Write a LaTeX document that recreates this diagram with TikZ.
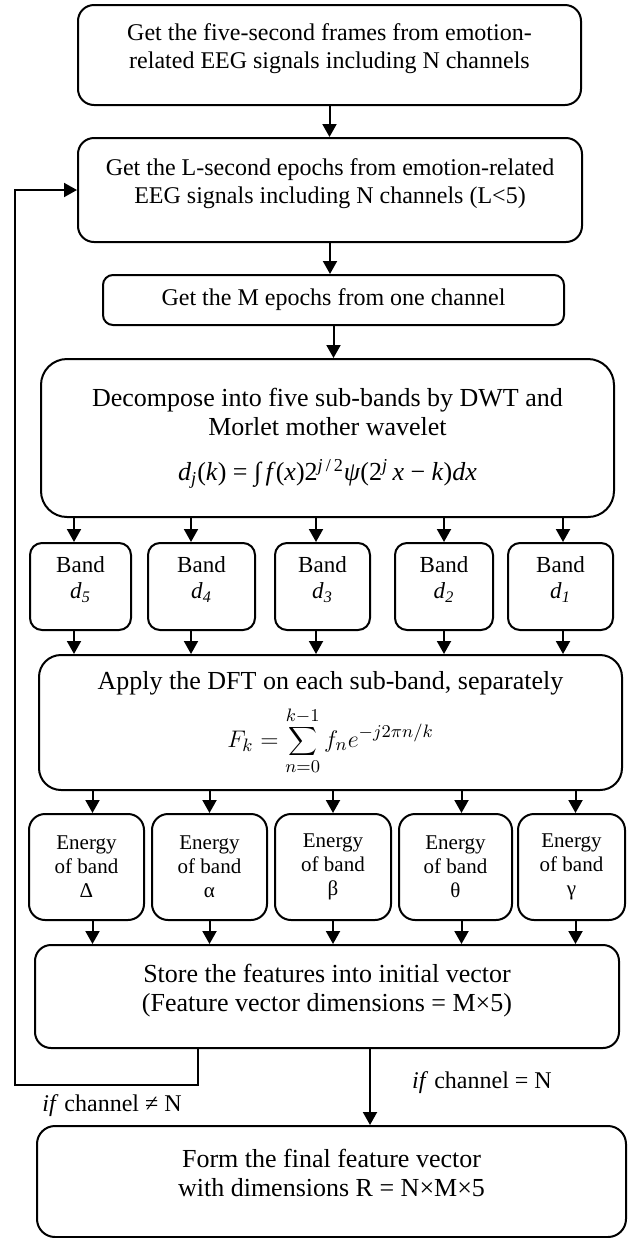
\documentclass[tikz,border=0pt]{standalone}
\usepackage{fontspec}
\setmainfont{Liberation Serif}
\usetikzlibrary{arrows.meta,positioning,calc}
\tikzset{
  proc/.style={rectangle,rounded corners=#1,draw=black,line width=1pt,
               align=center,font=\fontsize{12}{13.8}\selectfont},
  proc/.default=8pt,
  big/.style={font=\fontsize{13}{14.5}\selectfont},
  lift/.style={text depth=9pt},
  band/.style={rectangle,rounded corners=6pt,draw=black,line width=1pt,
               minimum height=43.5pt,align=center,
               font=\fontsize{11.5}{13.2}\selectfont,lift},
  energy/.style={rectangle,rounded corners=8pt,draw=black,line width=1pt,
                 minimum height=53pt,align=center,
                 font=\fontsize{10.5}{12}\selectfont},
  arr/.style={-{Triangle[length=6.5pt,width=7pt]},line width=1pt},
  lbl/.style={font=\fontsize{12}{13.8}\selectfont,inner sep=0pt},
}
\begin{document}
\begin{tikzpicture}[x=0.5pt,y=-0.5pt]
  \useasboundingbox (0,0) rectangle (634,1238);

  %% Frames and epochs
  \node[proc,lift,minimum width=251.5pt,minimum height=50pt]
    (frames) at (329.5,55) {Get the five-second frames from emotion-\\
                            related EEG signals including N channels};
  \node[proc,lift,minimum width=252pt,minimum height=52pt]
    (epochs) at (330,190) {Get the L-second epochs from emotion-related\\
                           EEG signals including N channels (L<5)};
  \node[proc=5pt,minimum width=230.5pt,minimum height=25pt]
    (onech) at (333.5,300) {Get the M epochs from one channel};

  \draw[arr] (frames.south) -- (frames.south |- epochs.north);
  \draw[arr] (epochs.south) -- (epochs.south |- onech.north);

  %% DWT
  \node[proc=13pt,big,minimum width=286.5pt,minimum height=79pt]
    (dwt) at (327.5,438) {Decompose into five sub-bands by DWT and\\
      Morlet mother wavelet\\[8pt]
      \textit{d}\textsubscript{\textit{j}}(\textit{k}) = ∫\,\textit{f}(\textit{x})2\textsuperscript{\textit{j}\,/\,2}\textit{ψ}(2\textsuperscript{\textit{j}}\,\textit{x} − \textit{k})\textit{dx}};
  \draw[arr] (onech.south) -- (onech.south |- dwt.north);

  %% DFT
  \node[proc=11pt,big,minimum width=291.5pt,minimum height=67.5pt]
    (dft) at (330.5,722.5) {Apply the DFT on each sub-band, separately\\[5pt]
      $\displaystyle F_k=\sum_{n=0}^{k-1} f_n e^{-j2\pi n/k}$};

  \foreach \name/\x/\w/\sub/\dx in {
    d5/80.5/50.5/5/-3.25,
    d4/201.5/53.5/4/-5.25,
    d3/322.5/47.5/3/-3.25,
    d2/444/49/2/0,
    d1/560.5/52.5/1/1.25}{

    \node[band,minimum width=\w pt]
      (\name) at (\x,586.5) {Band\\\textit{d}\textsubscript{\textit{\sub}}};

    \draw[arr] ([xshift=\dx pt]\name.north |- dwt.south) -- ([xshift=\dx pt]\name.north);
    \draw[arr] ([xshift=\dx pt]\name.south) -- ([xshift=\dx pt]\name.south |- dft.north);
  }

  %% Store
  \node[proc,big,lift,minimum width=292pt,minimum height=51.5pt]
    (store) at (327,996.5) {Store the features into initial vector\\
                            (Feature vector dimensions = M×5)};

  \foreach \name/\x/\w/\g/\dx in {
    eDelta/86.5/57.5/Δ/3,
    eAlpha/209.5/57.5/α/0,
    eBeta/333/58/β/0,
    eTheta/455.5/56.5/θ/3,
    eGamma/571.5/53.5/γ/2}{

    \node[energy,minimum width=\w pt]
      (\name) at (\x,867) {Energy\\of band\\\g};

    \draw[arr] ([xshift=\dx pt]\name.north |- dft.south) -- ([xshift=\dx pt]\name.north);
    \draw[arr] ([xshift=\dx pt]\name.south) -- ([xshift=\dx pt]\name.south |- store.north);
  }

  %% Final vector
  \node[proc=9pt,big,lift,minimum width=294.5pt,minimum height=55.5pt]
    (final) at (331.5,1181.5) {Form the final feature vector\\
                               with dimensions R = N×M×5};

  \draw[arr] ([xshift=21.5pt]store.south) -- ([xshift=21.5pt]store.south |- final.north);
  \node[lbl] (ifeq) at (482,1083) {\textit{if} channel = N};

  %% Loop back to the epochs
  \coordinate (back) at (198,1085);
  \coordinate (side) at (15,1085);
  \draw[arr] (store.south -| back) -- (back) -- (side) |- (epochs.west);
  \node[lbl] (ifne) at (112,1106) {\textit{if} channel ≠ N};

\end{tikzpicture}
\end{document}
